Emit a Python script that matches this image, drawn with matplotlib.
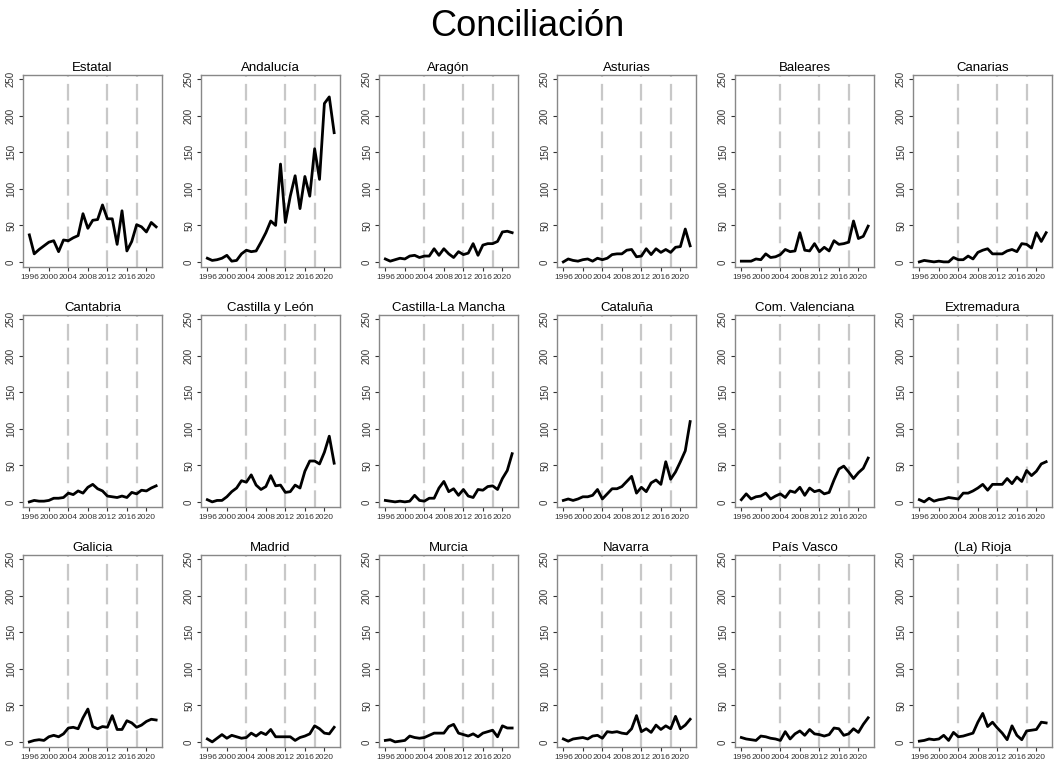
import numpy as np
import matplotlib
matplotlib.use("Agg")
import matplotlib.pyplot as plt

plt.rcParams['font.family'] = ['Liberation Sans', 'DejaVu Sans']

years = list(range(1996, 2023))
reform_years = [2004, 2012, 2018]

regions = ["Estatal", "Andalucía", "Aragón", "Asturias", "Baleares", "Canarias",
           "Cantabria", "Castilla y León", "Castilla-La Mancha", "Cataluña",
           "Com. Valenciana", "Extremadura",
           "Galicia", "Madrid", "Murcia", "Navarra", "País Vasco", "(La) Rioja"]

estatal = [37, 11, 17, 22, 27, 29, 14, 30, 29, 33, 36, 66, 46, 57, 58, 78, 59, 59,
           24, 70, 15, 28, 51, 48, 41, 54, 48]
andalucia = [5, 2, 3, 5, 9, 1, 2, 11, 16, 14, 15, 27, 40, 56, 50, 134, 54, 90,
             118, 73, 117, 90, 155, 113, 217, 226, 177]
aragon = [4, 1, 3, 5, 4, 8, 9, 6, 8, 8, 18, 9, 18, 11, 6, 14, 10, 12,
          25, 9, 23, 25, 25, 28, 41, 42, 40]
asturias = [0, 4, 2, 1, 3, 4, 1, 5, 3, 5, 10, 11, 11, 16, 17, 7, 8, 18,
            10, 18, 13, 17, 13, 20, 21, 45, 22]
baleares = [1, 1, 1, 4, 3, 11, 6, 7, 10, 17, 14, 15, 40, 16, 15, 25, 14, 20,
            15, 29, 24, 25, 27, 56, 32, 35, 49]
canarias = [0, 2, 1, 0, 1, 0, 0, 6, 3, 3, 8, 4, 13, 16, 18, 11, 11, 11,
            15, 17, 14, 25, 24, 19, 40, 28, 40]
cantabria = [0, 2, 1, 1, 2, 5, 5, 6, 12, 10, 15, 12, 20, 24, 18, 15, 8, 7,
             6, 8, 6, 13, 11, 16, 15, 19, 22]
castilla_leon = [3, 0, 2, 2, 7, 14, 19, 29, 27, 37, 23, 17, 21, 36, 22, 23, 13, 14,
                 23, 19, 42, 56, 56, 52, 68, 90, 53]
castilla_mancha = [2, 1, 0, 1, 0, 1, 9, 2, 1, 5, 5, 19, 28, 14, 18, 9, 17, 8,
                   6, 17, 16, 21, 22, 17, 32, 43, 66]
cataluna = [2, 4, 2, 4, 7, 7, 9, 17, 4, 11, 18, 18, 21, 28, 35, 12, 20, 14,
            26, 30, 24, 55, 31, 41, 55, 70, 110]
valenciana = [3, 11, 4, 7, 8, 12, 4, 8, 11, 6, 15, 13, 20, 9, 19, 14, 16, 11,
              13, 30, 45, 49, 41, 32, 40, 46, 60]
extremadura = [3, 0, 5, 1, 3, 4, 6, 5, 4, 12, 12, 15, 19, 24, 16, 24, 24, 24,
               32, 25, 34, 28, 43, 36, 42, 52, 55]
galicia = [0, 2, 3, 2, 7, 9, 7, 11, 19, 20, 18, 33, 45, 21, 18, 21, 20, 36,
           17, 17, 29, 26, 20, 23, 28, 31, 30]
madrid = [4, 0, 5, 10, 5, 9, 7, 5, 6, 12, 8, 13, 10, 17, 7, 7, 7, 7,
          2, 6, 8, 11, 22, 18, 12, 11, 20]
murcia = [2, 3, 0, 1, 2, 8, 6, 5, 6, 9, 12, 12, 12, 21, 24, 12, 10, 8,
          11, 7, 12, 14, 16, 7, 22, 19, 19]
navarra = [4, 1, 4, 5, 6, 4, 8, 9, 5, 14, 13, 14, 12, 11, 18, 36, 14, 18,
           13, 23, 17, 22, 18, 35, 18, 23, 31]
pais_vasco = [6, 4, 3, 2, 8, 7, 5, 4, 2, 14, 4, 11, 15, 9, 17, 11, 10, 8,
              10, 19, 18, 9, 11, 18, 13, 24, 33]
rioja = [1, 2, 4, 3, 4, 9, 2, 13, 7, 8, 10, 12, 27, 39, 21, 27, 19, 12,
         3, 22, 9, 3, 15, 16, 17, 27, 26]

series = [estatal, andalucia, aragon, asturias, baleares, canarias,
          cantabria, castilla_leon, castilla_mancha, cataluna, valenciana, extremadura,
          galicia, madrid, murcia, navarra, pais_vasco, rioja]

W, H = 1055, 764
fig = plt.figure(figsize=(W / 100, H / 100), dpi=100)
fig.text(0.5, 1 - 26 / H, "Conciliación", ha="center", va="center", fontsize=26)

for i, (name, vals) in enumerate(zip(regions, series)):
    r, c = divmod(i, 6)
    left = 23 + 178 * c
    top = 75 + 240 * r
    ax = fig.add_axes([left / W, 1 - (top + 192) / H, 139 / W, 192 / H])
    for yr in reform_years:
        ax.axvline(yr, color="#c8c8c8", lw=1.6, dashes=(7.5, 3.2), zorder=1)
    ax.plot(years, vals, color="black", lw=2.0, zorder=2)
    ax.set_xlim(1994.7, 2023.2)
    ax.set_ylim(-7, 256)
    ax.set_xticks(range(1996, 2021, 4))
    ax.set_yticks(range(0, 251, 50))
    ax.tick_params(axis="x", labelsize=6.1, length=3, pad=2, colors="#333333")
    ax.tick_params(axis="y", labelsize=7, length=3, pad=2, colors="#333333",
                   labelrotation=90)
    for lab in ax.get_yticklabels():
        lab.set_va("center")
    for sp in ax.spines.values():
        sp.set_color("#888888")
        sp.set_linewidth(1.0)
    ax.set_title(name, fontsize=9.5, pad=3)

fig.savefig("out.png", dpi=100)
